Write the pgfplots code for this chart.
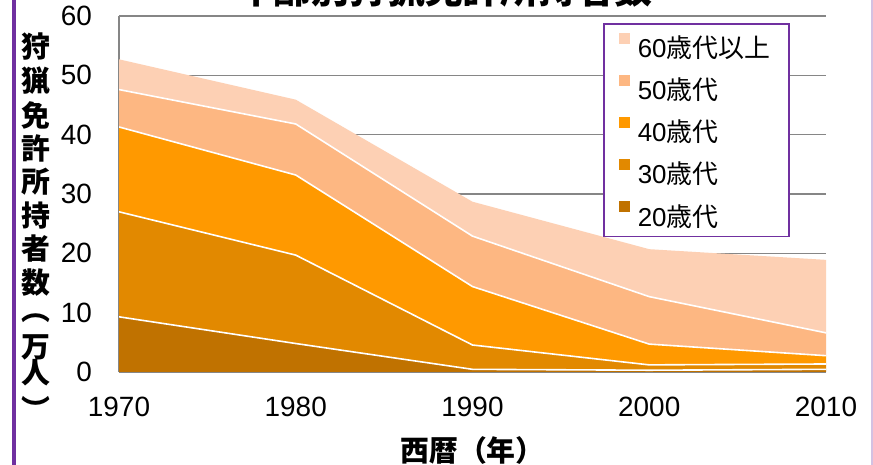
\documentclass[border=0pt]{standalone}
\usepackage{fontspec}
\setmainfont{Liberation Sans}
\newfontfamily\jp{Noto Sans CJK JP}
\usepackage{pgfplots}
\usepackage{pgfplotstable}
\pgfplotsset{compat=1.18}
\definecolor{c20}{RGB}{192,114,0}
\definecolor{c30}{RGB}{226,137,0}
\definecolor{c40}{RGB}{255,153,0}
\definecolor{c50}{RGB}{253,183,130}
\definecolor{c60}{RGB}{253,208,180}
\definecolor{purp}{RGB}{112,48,160}
\definecolor{gridc}{RGB}{134,134,134}
\pgfplotstableread{
year a20 a30 a40 a50 a60
1970 9.3 17.7 14.3 6.3 5.1
1980 4.8 14.9 13.5 8.6 4.1
1990 0.45 4.1 9.85 8.5 5.8
2000 0.3 0.9 3.5 8.0 8.0
2010 0.45 0.9 1.4 3.85 12.3
}\hdata
\pgfplotsset{
  base/.style={
    at={(119bp,93bp)}, anchor=south west, scale only axis,
    width=707bp, height=356bp,
    xmin=1970, xmax=2010, ymin=0, ymax=60,
    stack plots=y,
  }
}
\begin{document}
\begin{tikzpicture}
\useasboundingbox (0,0) rectangle (873bp,465bp);
\begin{scope}
\clip (0,0) rectangle (873bp,465bp);
\fill[white] (0,0) rectangle (873bp,465bp);
\draw[purp, line width=4bp] (14bp,0) -- (14bp,465bp);
\draw[purp!30, line width=1.5bp] (872bp,0) -- (872bp,465bp);
\node[anchor=south, inner sep=0pt, font=\jp\bfseries\fontsize{38}{38}\selectfont] at (444bp,457bp) {年齢別狩猟免許所持者数};
\foreach \c/\y in {狩/47,猟/81,免/115,許/148,所/182,持/216,者/249,数/283,︵/318,万/347,人/373,︶/408}
  \node[inner sep=0pt, font=\jp\bfseries\fontsize{29}{29}\selectfont] at (36bp,{(465-\y)*1bp}) {\c};
\node[inner sep=0pt, font=\jp\bfseries\fontsize{29}{29}\selectfont] at (472.5bp,14bp) {西暦（年）};

\begin{axis}[base,
  axis x line*=bottom, axis y line*=left,
  axis line style={gridc, line width=1.5bp},
  ymajorgrids, grid style={gridc, line width=1.2bp},
  major tick length=0pt,
  ytick={0,10,20,30,40,50,60},
  xtick={1970,1980,1990,2000,2010},
  xticklabels={1970,1980,1990,2000,2010},
  /pgf/number format/assume math mode=true,
  tick label style={font=\fontsize{28}{28}\selectfont},
  yticklabel style={inner sep=0pt, anchor=east, xshift=-27bp},
  xticklabel style={inner sep=0pt, anchor=north, yshift=-25bp},
  reverse legend,
  legend cell align=left,
  legend style={at={(0.6846,0.980)}, anchor=north west, draw=purp, line width=1.5bp,
    fill=white, inner xsep=15bp, inner ysep=9bp, row sep=16bp, column sep=8bp,
    font=\fontsize{26}{26}\selectfont, nodes={inner sep=0pt}},
  legend image code/.code={\fill[#1, draw=none] (0bp,3.5bp) rectangle (11bp,14.5bp);},
]
\addplot[fill=c20, draw=none] table[x=year,y=a20] {\hdata} \closedcycle;
\addlegendentry{20{\jp 歳代}}
\addplot[fill=c30, draw=none] table[x=year,y=a30] {\hdata} \closedcycle;
\addlegendentry{30{\jp 歳代}}
\addplot[fill=c40, draw=none] table[x=year,y=a40] {\hdata} \closedcycle;
\addlegendentry{40{\jp 歳代}}
\addplot[fill=c50, draw=none] table[x=year,y=a50] {\hdata} \closedcycle;
\addlegendentry{50{\jp 歳代}}
\addplot[fill=c60, draw=none] table[x=year,y=a60] {\hdata} \closedcycle;
\addlegendentry{60{\jp 歳代以上}\hspace*{4bp}}
\end{axis}
\begin{axis}[base, hide axis]
\addplot[white, line width=1.6bp] table[x=year,y=a20] {\hdata};
\addplot[white, line width=1.6bp] table[x=year,y=a30] {\hdata};
\addplot[white, line width=1.6bp] table[x=year,y=a40] {\hdata};
\addplot[white, line width=1.6bp] table[x=year,y=a50] {\hdata};
\end{axis}
\end{scope}
\end{tikzpicture}
\end{document}
